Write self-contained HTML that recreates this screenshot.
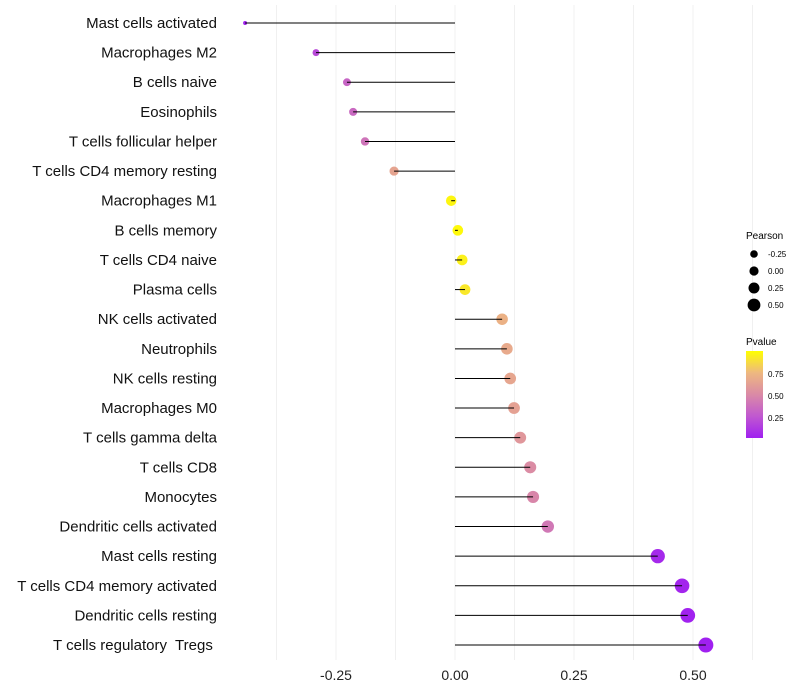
<!DOCTYPE html>
<html><head><meta charset="utf-8"><style>body{margin:0;background:#fff}svg{display:block;font-family:"Liberation Sans",sans-serif}text{white-space:pre}</style></head>
<body>
<svg id="chart" width="800" height="700">
<defs><linearGradient id="pg" x1="0" y1="1" x2="0" y2="0">
<stop offset="0" stop-color="#a020f0"/><stop offset="0.25" stop-color="#c058d0"/><stop offset="0.5" stop-color="#da8aa6"/><stop offset="0.75" stop-color="#eeb880"/><stop offset="1" stop-color="#ffff00"/></linearGradient></defs>
<g id="grid"></g><g id="marks"></g><g id="labels"></g>
<g>
<text x="746" y="239" font-size="10" fill="#000">Pearson</text>
<circle cx="754" cy="254" r="3.8" fill="#000"/><text x="768" y="257" font-size="8">-0.25</text>
<circle cx="754" cy="271" r="4.6" fill="#000"/><text x="768" y="274" font-size="8">0.00</text>
<circle cx="754" cy="288" r="5.5" fill="#000"/><text x="768" y="291" font-size="8">0.25</text>
<circle cx="754" cy="305" r="6.4" fill="#000"/><text x="768" y="308" font-size="8">0.50</text>
</g>
<g>
<text x="746" y="345" font-size="10">Pvalue</text>
<rect x="746" y="351" width="17" height="87" fill="url(#pg)"/>
<text x="768" y="377" font-size="8">0.75</text>
<text x="768" y="399" font-size="8">0.50</text>
<text x="768" y="421" font-size="8">0.25</text>
</g>
</svg>
<script>
const categories=["Mast cells activated","Macrophages M2","B cells naive","Eosinophils","T cells follicular helper","T cells CD4 memory resting","Macrophages M1","B cells memory","T cells CD4 naive","Plasma cells","NK cells activated","Neutrophils","NK cells resting","Macrophages M0","T cells gamma delta","T cells CD8","Monocytes","Dendritic cells activated","Mast cells resting","T cells CD4 memory activated","Dendritic cells resting","T cells regulatory  Tregs "];
const pearson=[-0.441,-0.292,-0.227,-0.214,-0.189,-0.128,-0.008,0.006,0.015,0.021,0.099,0.109,0.116,0.124,0.137,0.158,0.164,0.195,0.426,0.477,0.489,0.527];
const pvalue=[0.03,0.2,0.33,0.35,0.4,0.65,0.97,0.98,0.95,0.92,0.72,0.68,0.66,0.63,0.58,0.52,0.49,0.42,0.06,0.04,0.03,0.02];
const xTicks=[-0.25,0,0.25,0.5];
const xTickLabels=["-0.25","0.00","0.25","0.50"];
const NS="http://www.w3.org/2000/svg";
const xs=v=>455+v*476;
const ys=i=>23+i*29.62;
const rs=v=>{const t=Math.max(0,(v+0.441)/0.968);return Math.sqrt(4+t*(56.25-4));};
const stops=[[0,[160,32,240]],[0.25,[192,88,208]],[0.5,[218,138,166]],[0.75,[238,184,128]],[1,[255,255,0]]];
function col(p){let t=Math.max(0,Math.min(1,(p-0.02)/0.98));for(let i=1;i<stops.length;i++){if(t<=stops[i][0]){const a=stops[i-1],b=stops[i],f=(t-a[0])/(b[0]-a[0]);return "rgb("+a[1].map((c,k)=>Math.round(c+(b[1][k]-c)*f)).join(",")+")";}}return "rgb(255,255,0)";}
function mk(tag,at,parent){const e=document.createElementNS(NS,tag);for(const k in at)e.setAttribute(k,at[k]);parent.appendChild(e);return e;}
const grid=document.getElementById('grid'),marks=document.getElementById('marks'),labels=document.getElementById('labels');
for(let v=-0.375;v<=0.626;v+=0.125){const g=mk('line',{x1:xs(v),x2:xs(v),y1:5,y2:660,stroke:'#f0f0f0','stroke-width':1},grid);

}
xTicks.forEach((v,i)=>{const t=mk('text',{x:xs(v),y:680,'font-size':14,'text-anchor':'middle',fill:'#222'},labels);t.textContent=xTickLabels[i];

});
categories.forEach((c,i)=>{const y=ys(i);
const t=mk('text',{x:217,y:y+5,'font-size':15,'text-anchor':'end',fill:'#111'},labels);t.textContent=c;


const p=mk('circle',{cx:xs(pearson[i]),cy:y,r:rs(pearson[i]),fill:col(pvalue[i])},marks);


const l=mk('line',{x1:xs(0),x2:xs(pearson[i]),y1:y,y2:y,stroke:'#000','stroke-width':1},marks);

});
</script>
</body></html>
